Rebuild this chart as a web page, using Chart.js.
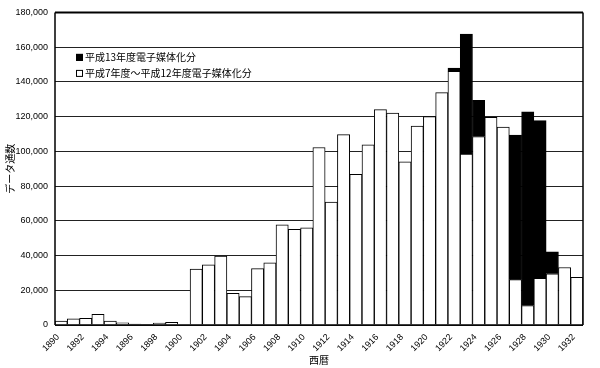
<!DOCTYPE html>
<html lang="ja">
<head>
<meta charset="utf-8">
<title>データ通数</title>
<script src="https://cdn.jsdelivr.net/npm/chart.js@4.4.1/dist/chart.umd.min.js"></script>
<style>
  html, body { margin: 0; padding: 0; background: #fff; }
  #wrap { width: 600px; height: 368px; position: relative; }
</style>
</head>
<body>
<div id="wrap"><canvas id="chart"></canvas></div>
<script>
// 西暦 (category axis)
var years = [1890, 1891, 1892, 1893, 1894, 1895, 1896, 1897, 1898, 1899,
             1900, 1901, 1902, 1903, 1904, 1905, 1906, 1907, 1908, 1909,
             1910, 1911, 1912, 1913, 1914, 1915, 1916, 1917, 1918, 1919,
             1920, 1921, 1922, 1923, 1924, 1925, 1926, 1927, 1928, 1929,
             1930, 1931, 1932];

// 平成7年度～平成12年度電子媒体化分 (white, bottom of stack)
var olderData = [2300, 3600, 3800, 6200, 2300, 1300, 500, 200, 1100, 1500,
                 0, 32200, 34600, 39700, 18200, 16300, 32500, 35800, 57700, 55100,
                 56000, 102200, 70800, 109600, 86700, 103700, 124000, 122000, 94000, 114500,
                 120000, 133800, 146000, 98400, 108500, 119600, 114000, 26100, 11200, 26900,
                 29500, 33100, 27400];

// 平成13年度電子媒体化分 (black, stacked on top)
var newerData = [0, 0, 0, 0, 0, 0, 0, 0, 0, 0,
                 0, 0, 0, 0, 0, 0, 0, 0, 0, 0,
                 0, 0, 0, 0, 0, 0, 0, 0, 0, 0,
                 0, 0, 2000, 69100, 20800, 0, 0, 83300, 111500, 90800,
                 12700, 0, 0];

var seriesLabels = ['平成7年度～平成12年度電子媒体化分', '平成13年度電子媒体化分'];

var JP_FONT = '"Noto Sans CJK JP", "Noto Sans CJK SC", sans-serif';
var NUM_FONT = '"Liberation Sans", Arial, sans-serif';

function fmtNum(v) {
  return String(v).replace(/\B(?=(\d{3})+(?!\d))/g, ',');
}

// frame around the plot + legend drawn inside the plot area
var framePlugin = {
  id: 'frame',
  afterDatasetsDraw: function(chart) {
    var a = chart.chartArea;
    var ctx = chart.ctx;
    ctx.save();
    ctx.strokeStyle = '#000';
    ctx.lineWidth = 2;
    ctx.beginPath();
    ctx.moveTo(a.left, a.top);
    ctx.lineTo(a.right, a.top);
    ctx.stroke();
    ctx.lineWidth = 1.5;
    ctx.beginPath();
    ctx.moveTo(a.right, a.top);
    ctx.lineTo(a.right, a.bottom);
    ctx.moveTo(a.left, a.top);
    ctx.lineTo(a.left, a.bottom);
    ctx.moveTo(a.left, a.bottom);
    ctx.lineTo(a.right, a.bottom);
    ctx.stroke();
    ctx.restore();
  },
  afterDraw: function(chart) {
    var a = chart.chartArea;
    var ctx = chart.ctx;
    var ds = chart.data.datasets;
    var x = a.left + 21;
    var rows = [ds[1], ds[0]];
    ctx.save();
    ctx.font = '10px ' + JP_FONT;
    ctx.textBaseline = 'middle';
    ctx.textAlign = 'left';
    for (var i = 0; i < rows.length; i++) {
      var y = a.top + 45 + i * 16;
      ctx.fillStyle = rows[i].backgroundColor;
      ctx.fillRect(x, y - 3.5, 7, 7);
      ctx.strokeStyle = '#000';
      ctx.lineWidth = 1;
      ctx.strokeRect(x + 0.5, y - 3, 6, 6);
      ctx.fillStyle = '#000';
      ctx.fillText(rows[i].label, x + 9, y);
    }
    ctx.restore();
  }
};

new Chart(document.getElementById('chart'), {
  type: 'bar',
  data: {
    labels: years,
    datasets: [
      {
        label: seriesLabels[0],
        data: olderData,
        backgroundColor: '#ffffff',
        borderColor: '#000000',
        borderWidth: 1,
        barPercentage: 1,
        categoryPercentage: 1
      },
      {
        label: seriesLabels[1],
        data: newerData,
        backgroundColor: '#000000',
        borderColor: '#000000',
        borderWidth: 1,
        barPercentage: 1,
        categoryPercentage: 1
      }
    ]
  },
  options: {
    responsive: true,
    maintainAspectRatio: false,
    animation: false,
    layout: { padding: { top: 8, right: 17, left: 0, bottom: 0 } },
    plugins: {
      legend: { display: false },
      tooltip: { enabled: false }
    },
    scales: {
      x: {
        stacked: true,
        grid: { display: false, drawTicks: false },
        border: { display: false },
        afterFit: function(scale) { scale.height = 43; },
        ticks: {
          autoSkip: false,
          maxRotation: 45,
          minRotation: 45,
          padding: 7,
          labelOffset: -3,
          color: '#000',
          font: { family: NUM_FONT, size: 9 },
          callback: function(v, i) { return years[i] % 2 === 0 ? String(years[i]) : ''; }
        },
        title: {
          display: true,
          text: '西暦',
          color: '#000',
          font: { family: JP_FONT, size: 10 },
          padding: { top: 0, bottom: 2 }
        }
      },
      y: {
        stacked: true,
        min: 0,
        max: 180000,
        afterFit: function(scale) { scale.width = 55; },
        grid: {
          color: '#222',
          lineWidth: 1,
          drawTicks: false
        },
        border: { display: false },
        ticks: {
          stepSize: 20000,
          padding: 7,
          color: '#000',
          font: { family: NUM_FONT, size: 9 },
          callback: function(v) { return fmtNum(v); }
        },
        title: {
          display: true,
          text: 'データ通数',
          color: '#000',
          font: { family: JP_FONT, size: 10 },
          padding: { top: 4, bottom: 0 }
        }
      }
    }
  },
  plugins: [framePlugin]
});
</script>
</body>
</html>
